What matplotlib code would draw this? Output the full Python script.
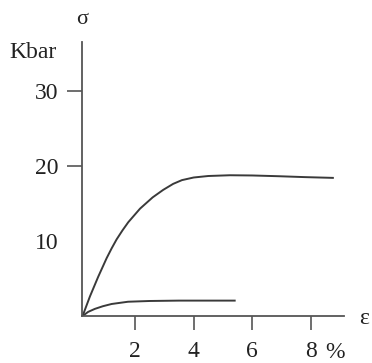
import matplotlib
matplotlib.use("Agg")
from matplotlib import pyplot as plt

plt.rcParams['font.family'] = ['Liberation Serif', 'DejaVu Serif']

# strain (%) and stress (Kbar)
upper_x = [0.21, 0.46, 0.74, 1.03, 1.2, 1.37, 1.57, 1.77, 2.17, 2.6, 2.96, 3.3, 3.6, 4.0, 4.5,
           5.24, 6.0, 6.9, 7.8, 8.75]
upper_y = [0.0, 2.6, 5.2, 7.7, 9.0, 10.2, 11.4, 12.5, 14.3, 15.8, 16.8, 17.6, 18.1, 18.45, 18.65,
           18.75, 18.72, 18.62, 18.5, 18.4]
lower_x = [0.21, 0.4, 0.63, 0.9, 1.2, 1.76, 2.5, 3.5, 4.5, 5.4]
lower_y = [0.0, 0.55, 0.95, 1.3, 1.6, 1.9, 2.0, 2.05, 2.05, 2.05]

xticks = [2, 4, 6, 8]
yticks = [10, 20, 30]

W, H = 372, 363
fig = plt.figure(figsize=(W / 100, H / 100), dpi=100)
ax = fig.add_axes([82 / W, (H - 316) / H, (344 - 82) / W, (316 - 42) / H])

col = '#3a3a3a'
ax.plot(upper_x, upper_y, color=col, lw=1.4, solid_joinstyle='round')
ax.plot(lower_x, lower_y, color=col, lw=1.4, solid_joinstyle='round')

ax.set_xlim(0.19, 9.13)
ax.set_ylim(0, 36.5)
ax.spines[['top', 'right']].set_visible(False)
ax.spines[['left', 'bottom']].set_color('#555555')
ax.spines[['left', 'bottom']].set_linewidth(1.3)

ax.set_xticks(xticks)
ax.set_yticks(yticks)
ax.tick_params(axis='x', direction='out', length=10, width=1.2, color='#555555',
               labelsize=17, pad=8, labelcolor='#222222')
ax.tick_params(axis='y', direction='out', length=11, width=1.2, color='#555555',
               labelsize=17, pad=6, labelcolor='#222222')
# no tick mark at 10
ax.yaxis.get_major_ticks()[0].tick1line.set_visible(False)

fig.text(82 / W, 1 - 20 / H, 'σ', ha='center', va='center', fontsize=16, color='#222222')
fig.text(33 / W, 1 - 53 / H, 'Kbar', ha='center', va='center', fontsize=17, color='#222222')
fig.text(364 / W, 1 - 318 / H, 'ε', ha='center', va='center', fontsize=17, color='#222222')
fig.text(335 / W, 1 - 352 / H, '%', ha='center', va='center', fontsize=17, color='#222222')

plt.savefig("out.png", dpi=100)
